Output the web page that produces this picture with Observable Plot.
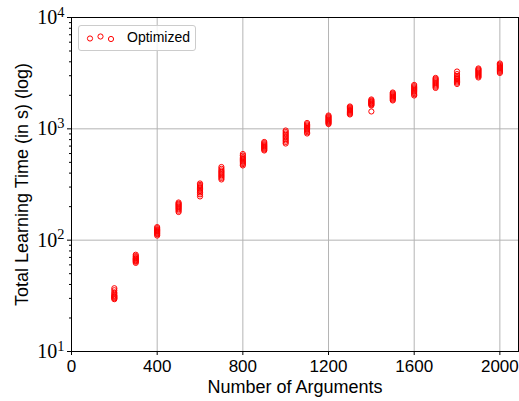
<!DOCTYPE html>
<html>
<head>
<meta charset="utf-8">
<script src="https://cdn.jsdelivr.net/npm/d3@7"></script>
<script src="https://cdn.jsdelivr.net/npm/@observablehq/plot@0.6"></script>
<style>
  html, body { margin: 0; padding: 0; background: #fff; }
  #wrap { position: relative; width: 519px; height: 401px; }
  #legend { position: absolute; left: 78px; top: 25px; width: 116px; height: 24px;
    border: 1px solid #cccccc; border-radius: 3px; background: rgba(255,255,255,0.8);
    font-family: "Liberation Sans", Arial, sans-serif; font-size: 14px; }
  #legend svg { position: absolute; left: 0; top: 0; }
  #legend span { position: absolute; left: 48px; top: 3px; color: #000; }
</style>
</head>
<body>
<div id="wrap">
  <div id="chart"></div>
  <div id="legend">
    <svg width="40" height="24">
      <circle cx="11" cy="12.5" r="2.6" fill="none" stroke="red" stroke-width="1"/>
      <circle cx="21.5" cy="10.5" r="2.6" fill="none" stroke="red" stroke-width="1"/>
      <circle cx="32" cy="13" r="2.6" fill="none" stroke="red" stroke-width="1"/>
    </svg>
    <span>Optimized</span>
  </div>
</div>
<script>
// Number of arguments (x positions)
const argCounts = [200, 300, 400, 500, 600, 700, 800, 900, 1000, 1100, 1200, 1300, 1400, 1500, 1600, 1700, 1800, 1900, 2000];

// Total learning time (s) for each of 10 runs, per argument count
const run1  = [29.5, 62.5, 110, 179, 247, 351, 469, 639, 738, 908, 1104, 1346, 1432, 1798, 1993, 2330, 2531, 2893, 3177];
const run2  = [30.0, 64.0, 113, 184, 258, 362, 482, 652, 762, 932, 1128, 1372, 1621, 1832, 2046, 2388, 2600, 2960, 3250];
const run3  = [30.5, 65.0, 115, 189, 268, 372, 494, 664, 786, 956, 1150, 1398, 1648, 1866, 2098, 2446, 2665, 3025, 3320];
const run4  = [31.0, 66.0, 117, 193, 276, 382, 506, 676, 810, 978, 1172, 1424, 1672, 1900, 2150, 2504, 2730, 3090, 3390];
const run5  = [31.5, 67.0, 119, 197, 284, 392, 518, 688, 834, 1000, 1194, 1450, 1696, 1934, 2200, 2562, 2790, 3155, 3460];
const run6  = [32.0, 68.0, 121, 201, 292, 402, 530, 700, 858, 1022, 1216, 1476, 1720, 1968, 2250, 2620, 2850, 3220, 3530];
const run7  = [33.0, 69.0, 123, 205, 299, 412, 543, 713, 882, 1045, 1240, 1502, 1745, 2005, 2300, 2680, 2910, 3285, 3600];
const run8  = [34.0, 70.5, 125, 209, 306, 423, 557, 727, 908, 1070, 1265, 1530, 1770, 2042, 2355, 2740, 2980, 3350, 3680];
const run9  = [35.5, 72.0, 128, 213, 314, 437, 575, 744, 936, 1098, 1290, 1558, 1800, 2080, 2415, 2800, 3100, 3415, 3770];
const run10 = [37.0, 74.0, 131, 218, 323, 454, 594, 762, 966, 1128, 1318, 1588, 1836, 2120, 2478, 2866, 3272, 3486, 3864];

const xTicks = [0, 400, 800, 1200, 1600, 2000];
const yTicks = [10, 100, 1000, 10000];
const yMinorTicks = [20, 30, 40, 50, 60, 70, 80, 90, 200, 300, 400, 500, 600, 700, 800, 900, 2000, 3000, 4000, 5000, 6000, 7000, 8000, 9000];

const runs = [run1, run2, run3, run4, run5, run6, run7, run8, run9, run10];
const data = argCounts.flatMap((a, i) => runs.map(r => ({args: a, time: r[i]})));

const sans = "'Liberation Sans', Arial, Helvetica, sans-serif";
const serif = "'Liberation Serif', 'DejaVu Serif', serif";

const chart = Plot.plot({
  width: 519,
  height: 401,
  marginLeft: 71,
  marginRight: 1,
  marginTop: 17,
  marginBottom: 50,
  style: {background: "#fff", overflow: "visible"},
  x: {domain: [0, 2087]},
  y: {type: "log", domain: [10, 10000]},
  marks: [
    Plot.gridX(xTicks.slice(1), {stroke: "#b4b4b4", strokeOpacity: 1, strokeWidth: 1}),
    Plot.gridY([100, 1000], {stroke: "#b4b4b4", strokeOpacity: 1, strokeWidth: 1}),
    Plot.dot(data, {x: "args", y: "time", r: 2.6, stroke: "red", strokeWidth: 1, fill: "none"}),
    Plot.frame({stroke: "#000", strokeWidth: 1}),
    Plot.axisX({ticks: xTicks, tickSize: 4, tickPadding: 4, fontSize: 17, fontFamily: sans,
      label: null, tickFormat: d => String(d), stroke: "#000"}),
    Plot.axisY({ticks: yTicks, tickSize: 4, tickPadding: 3, fontSize: 20, fontFamily: serif,
      label: null, tickFormat: d => "10^" + Math.round(Math.log10(d))}),
    Plot.axisY({ticks: yMinorTicks, tickSize: 2, label: null, tickFormat: () => ""}),
    Plot.text(["Number of Arguments"], {frameAnchor: "bottom", dy: 36, fontSize: 18, fontFamily: sans, fill: "#000", lineAnchor: "middle", textAnchor: "middle"}),
    Plot.text(["Total Learning Time (in s) (log)"], {frameAnchor: "left", dx: -49, rotate: -90, fontSize: 18, fontFamily: sans, fill: "#000", textAnchor: "middle", lineAnchor: "middle"})
  ]
});

document.getElementById("chart").appendChild(chart);

// Render y tick labels as 10 with superscript exponents
chart.querySelectorAll("text").forEach(t => {
  const s = t.textContent;
  const m = s.match(/^10\^(\d+)$/);
  if (m) {
    while (t.firstChild) t.removeChild(t.firstChild);
    t.appendChild(document.createTextNode("10"));
    const sup = document.createElementNS("http://www.w3.org/2000/svg", "tspan");
    sup.setAttribute("dy", "-0.5em");
    sup.setAttribute("font-size", "0.72em");
    sup.textContent = m[1];
    t.appendChild(sup);
  }
});
</script>
</body>
</html>
